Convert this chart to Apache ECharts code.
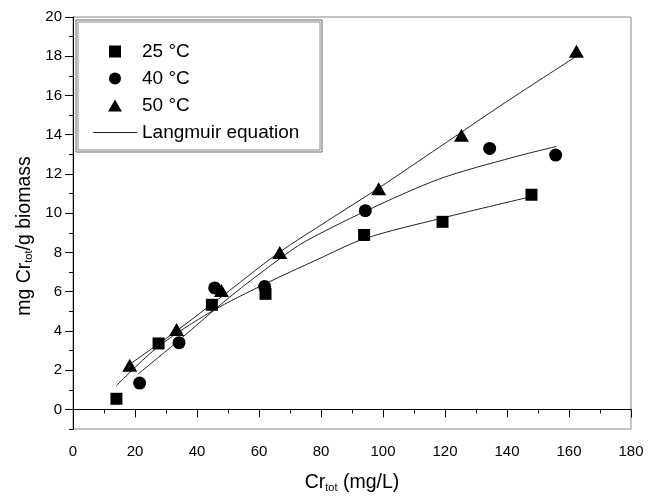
<!DOCTYPE html>
<html>
<head>
<meta charset="utf-8">
<script src="https://cdn.jsdelivr.net/npm/echarts@6/dist/echarts.min.js"></script>
<style>
  html, body { margin: 0; padding: 0; background: #fff; }
  #chart { width: 655px; height: 498px; }
</style>
</head>
<body>
<div id="chart"></div>
<script>
// measured points (Cr_tot mg/L vs mg Cr_tot / g biomass)
const conc25 = [14.0, 27.6, 44.8, 62.1, 93.9, 119.2, 147.9]
const q25 = [0.54, 3.36, 5.33, 5.89, 8.89, 9.56, 10.94]
const conc40 = [21.5, 34.2, 45.7, 61.8, 94.3, 134.4, 155.7]
const q40 = [1.34, 3.40, 6.19, 6.26, 10.13, 13.30, 12.96]
const conc50 = [18.3, 33.4, 47.9, 66.7, 98.6, 125.3, 162.4]
const q50 = [2.25, 4.07, 6.06, 8.00, 11.24, 13.97, 18.26]

// Langmuir curves
const fitX25 = [14, 27.5, 44.8, 62, 79, 94, 119, 148]
const fitY25 = [1.21, 3.2, 5.0, 6.4, 7.65, 8.7, 9.75, 10.85]
const fitX40 = [21, 34.4, 50.5, 66.7, 74.8, 94.3, 118.3, 142, 155.9]
const fitY40 = [1.8, 3.55, 5.72, 7.68, 8.55, 10.1, 11.75, 12.85, 13.4]
const fitX50 = [18.3, 33.4, 50.5, 66.5, 82, 98.6, 118.3, 140, 162.4]
const fitY50 = [2.3, 4.0, 6.06, 8.0, 9.6, 11.28, 13.38, 15.7, 18.0]

const yTicks = [0, 2, 4, 6, 8, 10, 12, 14, 16, 18, 20]
const yMinorTicks = [-1, 1, 3, 5, 7, 9, 11, 13, 15, 17, 19]

const zip = (xs, ys) => xs.map((x, i) => [x, ys[i]])
const font = "'Liberation Sans', Arial, sans-serif"

const chart = echarts.init(document.getElementById('chart'), null, { renderer: 'canvas' })

const markerSeries = (name, xs, ys, symbol, size) => ({
  name: name,
  type: 'scatter',
  data: zip(xs, ys),
  symbol: symbol,
  symbolSize: size,
  itemStyle: { color: '#000', opacity: 1 },
  z: 5
})

const curveSeries = (xs, ys) => ({
  name: 'Langmuir equation',
  type: 'line',
  data: zip(xs, ys),
  smooth: 0.3,
  symbol: 'none',
  lineStyle: { color: '#222', width: 1 },
  itemStyle: { color: '#222' },
  z: 3
})

const titleRich = {
  a: { fontSize: 19.5, lineHeight: 26, verticalAlign: 'bottom', color: '#000', fontFamily: font },
  s: { fontSize: 11, lineHeight: 11, verticalAlign: 'bottom', color: '#000', fontFamily: font }
}

chart.setOption({
  animation: false,
  textStyle: { fontFamily: font },
  grid: {
    left: 73, right: 24, top: 17, bottom: 65,
    show: true, borderColor: '#888', borderWidth: 1
  },
  legend: {
    data: [
      { name: '25 °C', icon: 'path://M0,0H10V10H0Z' },
      { name: '40 °C', icon: 'circle' },
      { name: '50 °C', icon: 'path://M7.5,0L15,13H0Z' },
      { name: 'Langmuir equation', icon: 'path://M0,0H44V1H0Z' }
    ],
    orient: 'vertical',
    left: 93,
    top: 42,
    padding: 0,
    itemWidth: 44,
    itemHeight: 12,
    itemGap: 8,
    symbolKeepAspect: true,
    textStyle: { fontSize: 19, lineHeight: 19, color: '#000', fontFamily: font }
  },
  graphic: [
    { type: 'rect', shape: { x: 76, y: 20, width: 246, height: 132 },
      style: { fill: 'none', stroke: '#666', lineWidth: 1 } },
    { type: 'rect', shape: { x: 78, y: 22, width: 242, height: 128 },
      style: { fill: 'none', stroke: '#888', lineWidth: 1 } }
  ],
  xAxis: {
    type: 'value',
    min: 0, max: 180, interval: 20,
    name: '{a|Cr}{s|tot}{a| (mg/L)}',
    nameLocation: 'middle',
    nameGap: 38,
    nameTextStyle: { rich: titleRich },
    axisLine: { lineStyle: { color: '#000', width: 1 } },
    axisTick: { length: 8, lineStyle: { color: '#000' } },
    minorTick: { show: true, splitNumber: 2, length: 4, lineStyle: { color: '#000' } },
    axisLabel: { fontSize: 15, color: '#000', margin: 15 },
    splitLine: { show: false }
  },
  yAxis: [
    {
      type: 'value',
      min: -1, max: 20,
      position: 'left',
      name: '{a|mg Cr}{s|tot}{a|/g biomass}',
      nameLocation: 'middle',
      nameGap: 24,
      nameTextStyle: { rich: titleRich, padding: [0, 26, 0, 0] },
      axisLine: { show: true, lineStyle: { color: '#000', width: 1 } },
      axisTick: { show: true, customValues: yTicks, length: 8, lineStyle: { color: '#000' } },
      axisLabel: { customValues: yTicks, fontSize: 15, color: '#000', margin: 11 },
      splitLine: { show: false }
    },
    {
      type: 'value',
      min: -1, max: 20,
      position: 'left',
      axisLine: { show: false },
      axisTick: { show: true, customValues: yMinorTicks, length: 4, lineStyle: { color: '#000' } },
      axisLabel: { show: false },
      splitLine: { show: false }
    }
  ],
  series: [
    markerSeries('25 °C', conc25, q25, 'rect', 12),
    markerSeries('40 °C', conc40, q40, 'circle', 13),
    markerSeries('50 °C', conc50, q50, 'triangle', [15, 13]),
    curveSeries(fitX25, fitY25),
    curveSeries(fitX40, fitY40),
    curveSeries(fitX50, fitY50)
  ]
})
</script>
</body>
</html>
